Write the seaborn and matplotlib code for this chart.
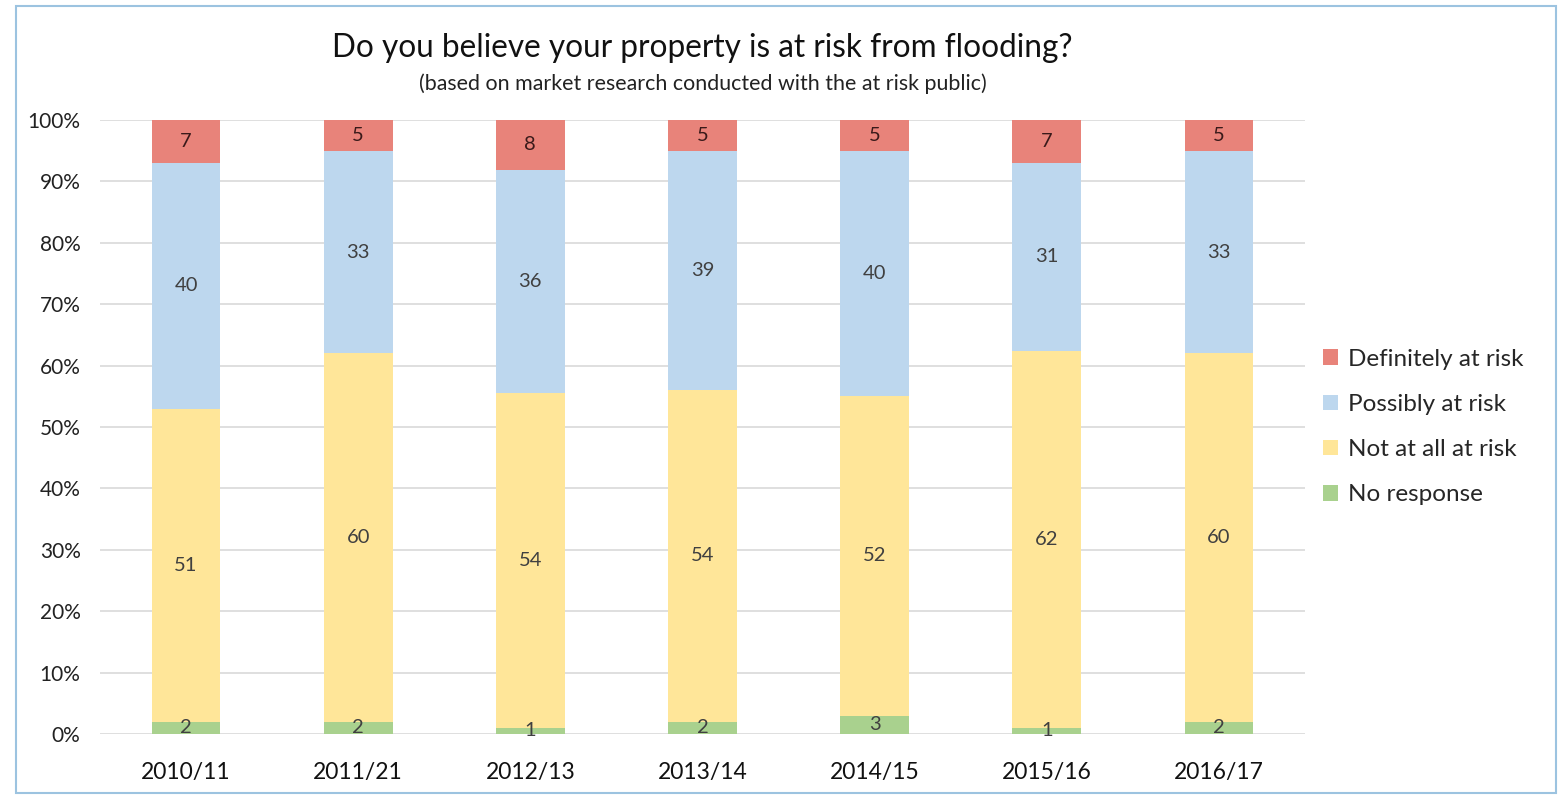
import numpy as np
import pandas as pd
import matplotlib.pyplot as plt
import seaborn as sns
from matplotlib.patches import Rectangle

years = ['2010/11', '2011/21', '2012/13', '2013/14', '2014/15', '2015/16', '2016/17']
no_response = [2, 2, 1, 2, 3, 1, 2]
not_at_all = [51, 60, 54, 54, 52, 62, 60]
possibly = [40, 33, 36, 39, 40, 31, 33]
definitely = [7, 5, 8, 5, 5, 7, 5]

series = ['No response', 'Not at all at risk', 'Possibly at risk', 'Definitely at risk']
colors = ['#A9D18E', '#FFE699', '#BDD7EE', '#E8837A']

data = pd.DataFrame({'year': years, 'No response': no_response,
                     'Not at all at risk': not_at_all,
                     'Possibly at risk': possibly,
                     'Definitely at risk': definitely})
# 100% stacked: scale each year to its total
vals = data[series]
pct = vals.div(vals.sum(axis=1), axis=0) * 100
cum = pct.cumsum(axis=1)

sns.set_style('white')
plt.rcParams['font.family'] = ['Lato', 'DejaVu Sans']

fig = plt.figure(figsize=(15.63, 7.95), dpi=100)
ax = fig.add_axes([100 / 1563, 1 - 734 / 795, 1205 / 1563, 614 / 795])

# draw from the top of the stack down so lower series cover upper ones
for i in range(len(series) - 1, -1, -1):
    d = pd.DataFrame({'year': years, 'top': cum[series[i]].values})
    sns.barplot(data=d, x='year', y='top', color=colors[i], width=0.4,
                saturation=1, ax=ax, zorder=2, label=series[i], linewidth=0)

# value labels at segment centres
for i, s in enumerate(series):
    base = cum[s] - pct[s]
    for j in range(len(years)):
        ax.text(j, base.iloc[j] + pct[s].iloc[j] / 2, str(int(vals[s].iloc[j])),
                ha='center', va='center', fontsize=14.5,
                color='#3a1a1a' if i == 3 else '#404040', zorder=3)

ax.set_ylim(0, 100)
ax.set_xlim(-0.5, 6.5)
ax.set_yticks(np.arange(0, 101, 10))
ax.set_yticklabels([f'{t}%' for t in range(0, 101, 10)], fontsize=15, color='#222222')
ax.tick_params(axis='x', labelsize=16.5, colors='#111111', length=0, pad=20)
ax.tick_params(axis='y', length=0, pad=14)
ax.set_xlabel('')
ax.set_ylabel('')
ax.yaxis.grid(True, color='#D9D9D9', linewidth=1.2, zorder=0)
ax.set_axisbelow(True)
for sp in ax.spines.values():
    sp.set_visible(False)

handles, labels = ax.get_legend_handles_labels()
leg = ax.legend(handles, labels, loc='center left', bbox_to_anchor=(0.997, 0.50),
                frameon=False, fontsize=17.5, handlelength=0.6, handleheight=0.6,
                handletextpad=0.4, labelspacing=1.0)

fig.text(0.5 * (333 + 1072) / 1563, 1 - 48 / 795,
         'Do you believe your property is at risk from flooding?',
         ha='center', va='center', fontsize=22.7, color='#111111')
fig.text(0.5 * (333 + 1072) / 1563, 1 - 84 / 795,
         '(based on market research conducted with the at risk public)',
         ha='center', va='center', fontsize=15.4, color='#222222')

fig.patches.append(Rectangle((16 / 1563, 2 / 795), 1540 / 1563, 787 / 795,
                             transform=fig.transFigure, fill=False,
                             edgecolor='#9CC3E0', linewidth=1.5))

fig.savefig('out.png', dpi=100)
